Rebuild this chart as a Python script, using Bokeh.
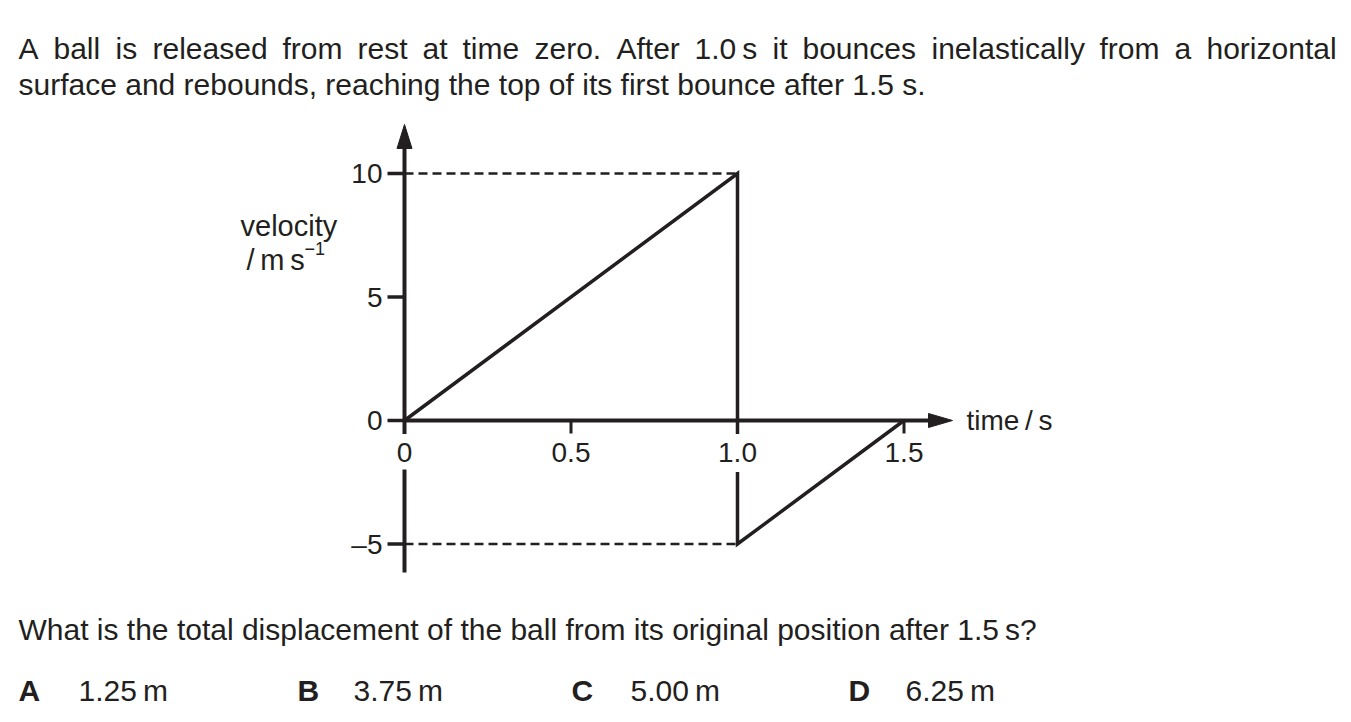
from bokeh.plotting import figure
from bokeh.models import Range1d, Label
from bokeh.embed import file_html
from bokeh.resources import INLINE

# ---------------- data ----------------
time_s = [0.0, 1.0, 1.0, 1.5]
velocity = [0.0, 10.0, -5.0, 0.0]
x_ticks = [0.0, 0.5, 1.0, 1.5]
x_tick_labels = ["0", "0.5", "1.0", "1.5"]
y_ticks = [-5, 0, 5, 10]
y_tick_labels = ["\u20135", "0", "5", "10"]
guide_levels = [10.0, -5.0]
guide_time = 1.0

line1_words = ["A", "ball", "is", "released", "from", "rest", "at", "time",
               "zero.", "After", "1.0\u2009s", "it", "bounces", "inelastically",
               "from", "a", "horizontal"]
line1_x = [18, 53, 115, 152, 282, 357, 422, 462, 534, 616, 694, 772, 802,
           931, 1099, 1174, 1206]
line2_text = "surface and rebounds, reaching the top of its first bounce after 1.5 s."
question = "What is the total displacement of the ball from its original position after 1.5\u2009s?"
option_keys = ["A", "B", "C", "D"]
option_vals = ["1.25\u2009m", "3.75\u2009m", "5.00\u2009m", "6.25\u2009m"]
option_key_x = [18, 297, 571, 848]
option_val_x = [78, 353, 630, 905]

INK = "#231f20"
FONT = "Liberation Sans"

# ---------------- page geometry (page pixels -> data) ----------------
X0, Y0 = 404.0, 420.0
SX, SY = 333.0, 24.7


def X(px):
    return (px - X0) / SX


def Y(py):
    return (Y0 - py) / SY


W, H = 1345, 716
p = figure(width=W, height=H, output_backend="svg", toolbar_location=None,
           x_range=Range1d(X(0), X(W)), y_range=Range1d(Y(H), Y(0)),
           x_axis_type=None, y_axis_type=None, min_border=0,
           background_fill_color="white", border_fill_color="white")
p.outline_line_color = None
p.grid.visible = False

# dashed guides
p.segment(x0=[0.0] * len(guide_levels), y0=guide_levels,
          x1=[guide_time] * len(guide_levels), y1=guide_levels,
          line_color=INK, line_width=2.5, line_dash="9 5")

# axes lines
p.line([0.0, 0.0], [Y(572), Y(148)], line_color=INK, line_width=4)
p.line([0.0, X(929)], [0.0, 0.0], line_color=INK, line_width=4)

# arrow heads
p.patch([X(396.5), X(404), X(411.5)], [Y(148), Y(124), Y(148)],
        fill_color=INK, line_color=INK, line_width=1)
p.patch([X(928), X(952), X(928)], [Y(413), Y(420), Y(427)],
        fill_color=INK, line_color=INK, line_width=1)

# y ticks (pointing left)
p.segment(x0=[X(387)] * len(y_ticks), y0=y_ticks, x1=[0.0] * len(y_ticks), y1=y_ticks,
          line_color=INK, line_width=3.5)
# x ticks (pointing down)
p.segment(x0=x_ticks[1:], y0=[0.0] * 3, x1=x_ticks[1:], y1=[Y(433)] * 3,
          line_color=INK, line_width=3)

# data line
p.line(time_s, velocity, line_color=INK, line_width=3.5, line_join="miter")

# white gaps behind the tick labels that sit on vertical lines
gap_t = [x_ticks[0], x_ticks[2]]
p.quad(left=[t - 7 / SX for t in gap_t], right=[t + 7 / SX for t in gap_t],
       top=[Y(433.5)] * 2, bottom=[Y(469), Y(471.5)],
       fill_color="white", line_color=None)


def lab(txt, px, py, size, align="left", base="alphabetic", bold=False):
    p.add_layout(Label(x=X(px), y=Y(py), text=txt, text_font=FONT,
                       text_font_size=f"{size}px", text_color=INK,
                       text_align=align, text_baseline=base,
                       text_font_style="bold" if bold else "normal"))


# tick labels
for t, s in zip(x_ticks, x_tick_labels):
    p.add_layout(Label(x=t, y=Y(452), text=s, text_font=FONT, text_font_size="28px",
                       text_color=INK, text_align="center", text_baseline="middle"))
for v, s in zip(y_ticks, y_tick_labels):
    p.add_layout(Label(x=X(382), y=v, text=s, text_font=FONT, text_font_size="28px",
                       text_color=INK, text_align="right", text_baseline="middle"))

# axis titles
lab("time\u2009/\u2009s", 966, 420, 28, base="middle")
lab("velocity", 240, 225, 29)
lab("/\u2009m\u2009s", 246, 259, 29)
lab("\u22121", 304, 248, 18)

# question text
for w, x in zip(line1_words, line1_x):
    lab(w, x, 48, 30)
lab(line2_text, 18, 84, 30)
lab(question, 18, 628.5, 30, base="middle")
for k, kx, v, vx in zip(option_keys, option_key_x, option_vals, option_val_x):
    lab(k, kx, 690, 30, base="middle", bold=True)
    lab(v, vx, 690, 30, base="middle")

open("out.html", "w").write(file_html(p, INLINE))
